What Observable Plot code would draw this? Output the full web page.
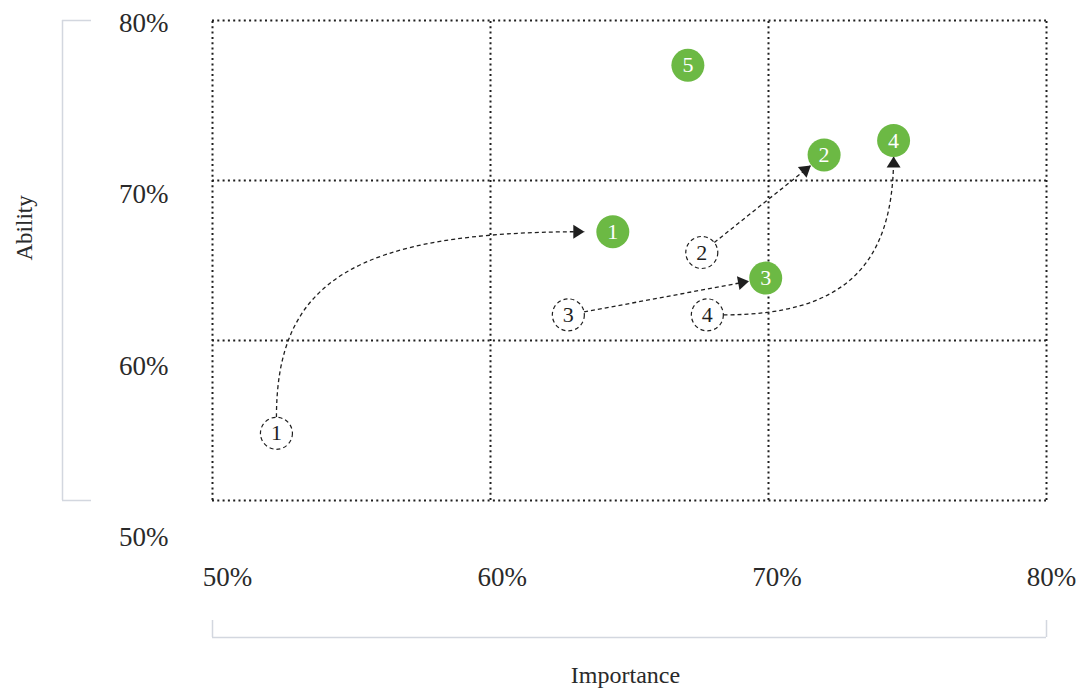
<!DOCTYPE html>
<html>
<head>
<meta charset="utf-8">
<script src="https://cdn.jsdelivr.net/npm/d3@7"></script>
<script src="https://cdn.jsdelivr.net/npm/@observablehq/plot@0.6"></script>
<style>
  html, body { margin: 0; padding: 0; background: #ffffff; }
  #chart svg { display: block; }
</style>
</head>
<body>
<div id="chart"></div>
<script>
// ---- data ----
const nowIds = [1, 2, 3, 4, 5];
const nowImportance = [64.4, 72.0, 69.9, 74.5, 67.1];
const nowAbility = [66.8, 71.6, 63.9, 72.5, 77.2];

const prevIds = [1, 2, 3, 4];
const prevImportance = [52.3, 67.6, 62.8, 67.8];
const prevAbility = [54.2, 65.5, 61.6, 61.6];

const xTicks = [50, 60, 70, 80];
const yTicks = [50, 60, 70, 80];
const xTitle = "Importance";
const yTitle = "Ability";

// ---- derived tables ----
const nowPts = nowIds.map((id, i) => ({id, x: nowImportance[i], y: nowAbility[i]}));
const prevPts = prevIds.map((id, i) => ({id, x: prevImportance[i], y: prevAbility[i]}));
const moves = prevPts.map(p => {
  const n = nowPts.find(d => d.id === p.id);
  return {id: p.id, x1: p.x, y1: p.y, x2: n.x, y2: n.y};
});

// custom curve: draws from one point to the next, trimmed at both ends
function arrowCurve(shape, insetStart, insetEnd, k = 0.7) {
  return (context) => {
    let pts = [];
    return {
      areaStart() {}, areaEnd() {},
      lineStart() { pts = []; },
      point(x, y) { pts.push([+x, +y]); },
      lineEnd() {
        if (pts.length < 2) return;
        let [[x0, y0], [x1, y1]] = pts;
        if (shape === "straight") {
          const dx = x1 - x0, dy = y1 - y0, L = Math.hypot(dx, dy) || 1;
          const ux = dx / L, uy = dy / L;
          context.moveTo(x0 + ux * insetStart, y0 + uy * insetStart);
          context.lineTo(x1 - ux * insetEnd, y1 - uy * insetEnd);
        } else if (shape === "vh") {
          y0 += Math.sign(y1 - y0) * insetStart;
          x1 -= Math.sign(x1 - x0) * insetEnd;
          context.moveTo(x0, y0);
          context.bezierCurveTo(x0, y0 + k * (y1 - y0), x1 - k * (x1 - x0), y1, x1, y1);
        } else {
          x0 += Math.sign(x1 - x0) * insetStart;
          y1 -= Math.sign(y1 - y0) * insetEnd;
          context.moveTo(x0, y0);
          context.bezierCurveTo(x0 + k * (x1 - x0), y0, x1, y1 - k * (y1 - y0), x1, y1);
        }
      }
    };
  };
}

// filled triangular arrow head
function triHead(color) {
  return d3.create("svg:marker")
    .attr("viewBox", "-12 -8 12 16")
    .attr("markerUnits", "userSpaceOnUse")
    .attr("markerWidth", 12)
    .attr("markerHeight", 16)
    .attr("refX", 0)
    .attr("refY", 0)
    .attr("orient", "auto")
    .attr("fill", color)
    .attr("stroke", "none")
    .attr("stroke-dasharray", "none")
    .call(m => m.append("path").attr("d", "M-11,-7L0,0L-11,7Z"))
    .node();
}

const green = "#6cb944";
const ink = "#1f1f1f";
const bracket = "#d3d7df";
const font = "'Liberation Serif', 'DejaVu Serif', serif";

const linkStyle = {x1: "x1", y1: "y1", x2: "x2", y2: "y2", stroke: ink, strokeWidth: 1.3,
  strokeDasharray: "4,3", markerEnd: triHead};

const chart = Plot.plot({
  width: 1080,
  height: 689,
  marginLeft: 212,
  marginRight: 34,
  marginTop: 20,
  marginBottom: 189,
  x: {domain: [50, 80], axis: null},
  y: {domain: [50, 80], axis: null},
  style: {fontFamily: font, background: "#ffffff", color: "#2a2a2a"},
  marks: [
    // dotted grid
    Plot.ruleX(xTicks, {x: d => d, y1: 50, y2: 80, stroke: ink, strokeWidth: 2, strokeDasharray: "2,3.3"}),
    Plot.ruleY(yTicks, {y: d => d, x1: 50, x2: 80, stroke: ink, strokeWidth: 2, strokeDasharray: "2,3.3"}),

    // y bracket
    Plot.ruleX([50], {x: d => d, y1: 50, y2: 80, dx: -150, stroke: bracket, strokeWidth: 1.5}),
    Plot.tickY([50, 80], {y: d => d, insetLeft: -150, insetRight: 955, stroke: bracket, strokeWidth: 1.5}),
    // x bracket
    Plot.ruleY([50], {y: d => d, x1: 50, x2: 80, dy: 137, stroke: bracket, strokeWidth: 1.5}),
    Plot.tickX([50, 80], {x: d => d, insetTop: 600, insetBottom: -137, stroke: bracket, strokeWidth: 1.5}),

    // y tick labels
    ...yTicks.map(t => Plot.text([t], {
      y: d => d, text: d => `${d}%`, frameAnchor: "left", dx: -44, dy: 3 + (80 - t) * 1.13,
      textAnchor: "end", lineAnchor: "middle", fontSize: 27, fill: "#2a2a2a"
    })),
    // x tick labels
    ...xTicks.map(t => Plot.text([t], {
      x: d => d, text: d => `${d}%`, frameAnchor: "bottom", dy: 77, dx: 15 - 0.33 * (t - 50),
      textAnchor: "middle", lineAnchor: "middle", fontSize: 27, fill: "#2a2a2a"
    })),

    // axis titles
    Plot.text([yTitle], {text: d => d, frameAnchor: "left", dx: -188, rotate: -90,
      fontSize: 23, fill: "#2a2a2a"}),
    Plot.text([xTitle], {text: d => d, frameAnchor: "bottom", dy: 182, dx: -4,
      fontSize: 24, fill: "#2a2a2a"}),

    // arrows
    Plot.link(moves.filter(d => d.id === 1), {...linkStyle, curve: arrowCurve("vh", 16, 28.5, 0.74)}),
    Plot.link(moves.filter(d => d.id === 2 || d.id === 3), {...linkStyle, curve: arrowCurve("straight", 16, 17)}),
    Plot.link(moves.filter(d => d.id === 4), {...linkStyle, curve: arrowCurve("hv", 16, 16, 0.7)}),

    // previous positions (dashed circles)
    Plot.dot(prevPts, {x: "x", y: "y", r: 16, fill: "#ffffff", stroke: ink, strokeWidth: 1.2, strokeDasharray: "4,3"}),
    Plot.text(prevPts, {x: "x", y: "y", text: d => String(d.id), fill: ink, fontSize: 22, lineAnchor: "middle"}),

    // current positions (green circles)
    Plot.dot(nowPts, {x: "x", y: "y", r: 16.5, fill: green, stroke: "none"}),
    Plot.text(nowPts, {x: "x", y: "y", text: d => String(d.id), fill: "#ffffff", fontSize: 22, lineAnchor: "middle"})
  ]
});

document.getElementById("chart").appendChild(chart);
</script>
</body>
</html>
